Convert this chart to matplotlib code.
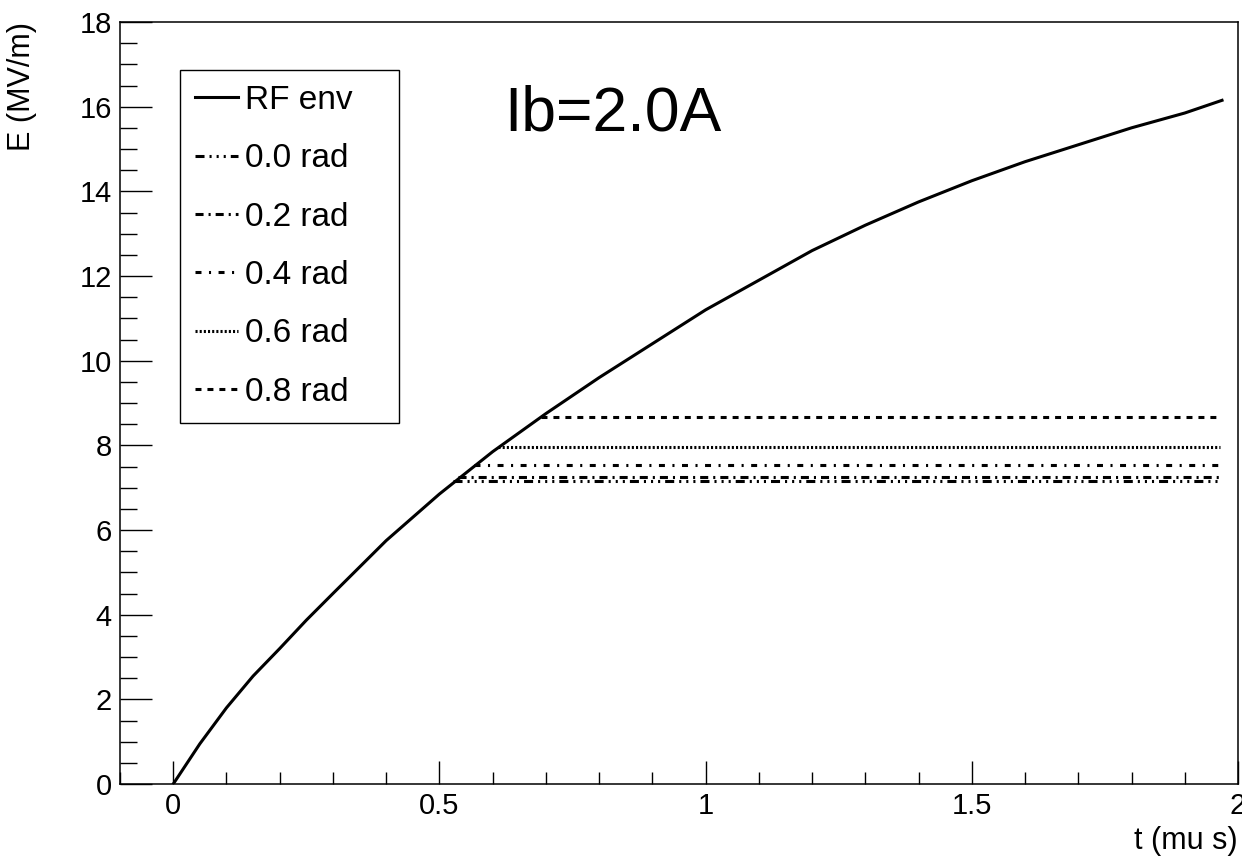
import matplotlib
matplotlib.use("Agg")
import matplotlib.pyplot as plt
from matplotlib.ticker import MultipleLocator

plt.rcParams['font.family'] = ['Liberation Sans', 'DejaVu Sans']
plt.rcParams['lines.scale_dashes'] = False

# RF envelope, field vs time
t_env = [0.0, 0.05, 0.1, 0.15, 0.2, 0.25, 0.3, 0.4, 0.5, 0.6, 0.7, 0.8, 0.9, 1.0,
         1.1, 1.2, 1.3, 1.4, 1.5, 1.6, 1.7, 1.8, 1.9, 1.97]
e_env = [0.0, 0.95, 1.8, 2.55, 3.2, 3.87, 4.5, 5.75, 6.85, 7.85, 8.75, 9.6, 10.4, 11.2,
         11.9, 12.6, 13.2, 13.75, 14.25, 14.7, 15.1, 15.5, 15.85, 16.15]

# flat-top levels for each beam phase: (start time, end time, field)
phases = ['0.0 rad', '0.2 rad', '0.4 rad', '0.6 rad', '0.8 rad']
t_start = [0.525, 0.535, 0.565, 0.61, 0.69]
t_end = [1.967, 1.967, 1.967, 1.967, 1.967]
e_flat = [7.15, 7.25, 7.53, 7.95, 8.67]

dashes = [
    (0, (6.5, 3.6, 1.5, 3.6, 1.5, 3.6, 1.5, 3.6)),
    (0, (5.8, 3.6, 1.5, 3.6)),
    (0, (4.3, 5.4, 1.5, 5.4)),
    (0, (1.5, 1.5)),
    (0, (4.3, 4.3)),
]

fig = plt.figure(figsize=(12.42, 8.59), dpi=100)
ax = fig.add_axes([120 / 1242, 1 - 784 / 859, 1118 / 1242, 762 / 859])

ax.plot(t_env, e_env, color='black', lw=2.2, solid_joinstyle='round', label='RF env')
for name, t0, t1, e, ls in zip(phases, t_start, t_end, e_flat, dashes):
    ax.plot([t0, t1], [e, e], color='black', lw=2.2, linestyle=ls,
            dash_capstyle='butt', label=name)

ax.set_xlim(-0.1, 2.0)
ax.set_ylim(0, 18)
ax.xaxis.set_major_locator(MultipleLocator(0.5))
ax.xaxis.set_minor_locator(MultipleLocator(0.1))
ax.yaxis.set_major_locator(MultipleLocator(2))
ax.yaxis.set_minor_locator(MultipleLocator(0.5))
ax.set_xticks([0, 0.5, 1, 1.5, 2])
ax.set_xticklabels(['0', '0.5', '1', '1.5', '2'])

ax.tick_params(axis='x', which='major', direction='in', length=16.5, width=1, labelsize=21, pad=6)
ax.tick_params(axis='x', which='minor', direction='in', length=8.5, width=1)
ax.tick_params(axis='y', which='major', direction='in', length=23, width=1, labelsize=21, pad=6)
ax.tick_params(axis='y', which='minor', direction='in', length=12, width=1)
for sp in ax.spines.values():
    sp.set_linewidth(1.1)

ax.set_xlabel('t (mu s)', loc='right', fontsize=22, labelpad=4)
ax.set_ylabel('E (MV/m)', loc='top', fontsize=22)
ax.yaxis.set_label_coords(-0.074, 1.0)

# legend box spans a fixed width, entries packed to the left
leg = ax.legend(loc='upper left', bbox_to_anchor=(0.0537, 0.0, 0.196, 0.937),
                mode='expand', fontsize=24,
                frameon=True, fancybox=False, framealpha=1, edgecolor='black',
                handlelength=1.3, handletextpad=0.2, labelspacing=0.82,
                borderpad=0.45, borderaxespad=0)
leg.get_frame().set_linewidth(1.0)

ax.text(0.344, 0.858, 'Ib=2.0A', transform=ax.transAxes, fontsize=45, va='baseline')

fig.savefig('out.png', dpi=100)
